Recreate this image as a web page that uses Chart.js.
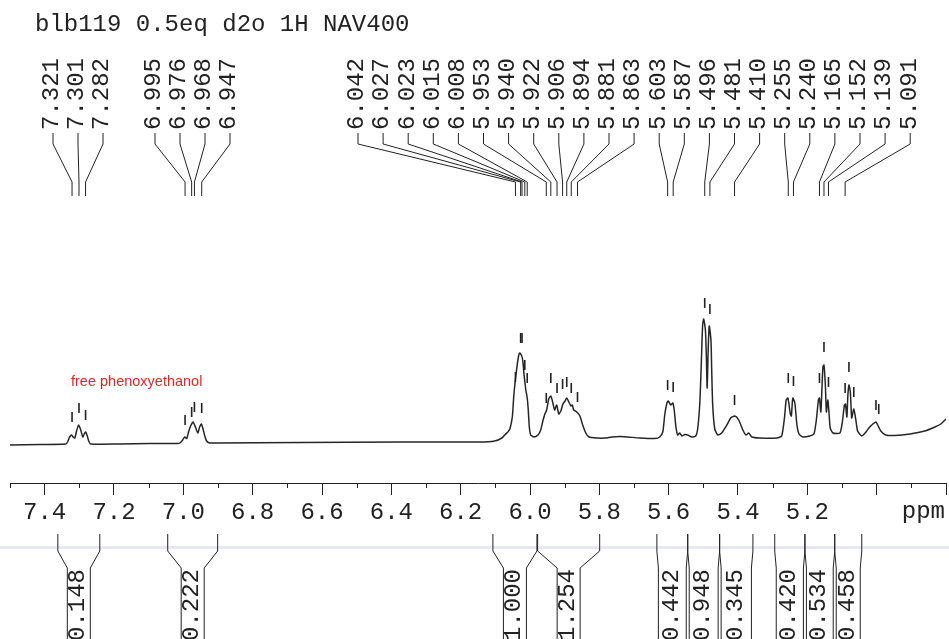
<!DOCTYPE html>
<html>
<head>
<meta charset="utf-8">
<style>
  html, body { margin: 0; padding: 0; background: #fff; }
</style>
<script src="https://cdn.jsdelivr.net/npm/chart.js@4.4.1/dist/chart.umd.min.js"></script>
</head>
<body>
<canvas id="nmr" width="949" height="639"></canvas>
<script>
// ***** DATA *****

// spectrum trace: chemical shift (ppm) and intensity (arbitrary, baseline ~0)
const shiftPpm = [
  7.500, 7.414, 7.339, 7.334, 7.328, 7.322, 7.318, 7.313, 7.308, 7.302, 7.296, 7.290, 7.286, 7.282, 7.277, 7.273, 7.267,
  7.184, 7.097, 7.016, 7.010, 7.002, 6.996, 6.990, 6.985, 6.979, 6.972, 6.964, 6.958, 6.953, 6.948, 6.944, 6.938, 6.933, 6.924, 6.910,
  6.664, 6.376, 6.145, 6.102, 6.081, 6.073, 6.064, 6.058, 6.051, 6.047, 6.043, 6.038, 6.034, 6.030, 6.025, 6.021, 6.017, 6.012, 6.008,
  6.005, 6.002, 5.998, 5.989, 5.977, 5.969, 5.963, 5.957, 5.952, 5.946, 5.940, 5.934, 5.929, 5.923, 5.917, 5.911, 5.905, 5.899, 5.894,
  5.888, 5.882, 5.878, 5.874, 5.865, 5.856, 5.848, 5.839, 5.830, 5.807, 5.784, 5.764, 5.741, 5.718, 5.683, 5.640, 5.626, 5.617, 5.611,
  5.605, 5.601, 5.594, 5.588, 5.584, 5.579, 5.574, 5.568, 5.562, 5.553, 5.545, 5.533, 5.522, 5.516, 5.510, 5.506, 5.502, 5.499, 5.494,
  5.491, 5.489, 5.486, 5.483, 5.478, 5.476, 5.473, 5.467, 5.458, 5.447, 5.432, 5.421, 5.409, 5.398, 5.386, 5.377, 5.369, 5.360, 5.337,
  5.288, 5.274, 5.266, 5.261, 5.256, 5.249, 5.246, 5.242, 5.236, 5.230, 5.224, 5.213, 5.193, 5.181, 5.174, 5.168, 5.165, 5.161, 5.158,
  5.155, 5.152, 5.148, 5.145, 5.141, 5.138, 5.134, 5.126, 5.106, 5.099, 5.093, 5.090, 5.086, 5.083, 5.080, 5.076, 5.072, 5.066, 5.060,
  5.055, 5.043, 5.031, 5.020, 5.011, 5.002, 4.997, 4.988, 4.974, 4.948, 4.904, 4.861, 4.832, 4.815, 4.800
];
const intensity = [
  0, 0.5, 1, 3, 8, 10, 8, 7, 14, 20, 15, 8, 11, 13, 9, 4, 1,
  1, 1.5, 1.5, 2, 5, 8, 6.5, 13, 19, 23, 17, 12, 18, 21, 17, 9, 4, 2, 2,
  2.5, 3, 3, 4, 7, 10, 13, 16, 28, 48, 63, 77, 87, 92, 90, 85, 70, 55, 47,
  35, 18, 10, 8, 10, 15, 24, 31, 35, 46, 49, 42, 35, 40, 31, 34, 41, 44, 47,
  43, 39, 40, 35, 33, 29, 20, 12, 8, 7, 7, 8, 8.5, 8, 7, 6.5, 8, 13, 31,
  42, 44, 40, 42, 35, 18, 10, 12, 9, 10.5, 10, 8, 9, 17, 43, 80, 120, 126, 115,
  85, 57, 95, 119, 105, 77, 40, 16, 10, 12, 20, 27, 29, 25, 15, 10, 12, 8, 7,
  7, 9, 27, 45, 47, 31, 29, 47, 42, 20, 11, 8, 9, 11, 25, 45, 47, 33, 55,
  78, 80, 60, 33, 45, 35, 17, 12, 12, 23, 40, 41, 28, 50, 60, 53, 27, 36, 25,
  14, 9, 13, 18, 21, 23, 20, 14, 10, 9.5, 11, 14, 18, 21, 26
];

// picked peaks that carry a printed shift label
const peakLabels = [
  7.321, 7.301, 7.282,
  6.995, 6.976, 6.968, 6.947,
  6.042, 6.027, 6.023, 6.015, 6.008, 5.953, 5.940, 5.922, 5.906, 5.894, 5.881, 5.863,
  5.603, 5.587, 5.496, 5.481, 5.410, 5.255, 5.240, 5.165, 5.152, 5.139, 5.091
];

// peak-pick markers above the trace (shift, intensity level of marker foot)
const markShift = [
  7.321, 7.301, 7.282, 6.995, 6.976, 6.968, 6.947,
  6.042, 6.027, 6.023, 6.015, 6.008, 5.953, 5.940, 5.922, 5.906, 5.894, 5.881, 5.863,
  5.603, 5.587, 5.496, 5.481, 5.410, 5.255, 5.240, 5.165, 5.152, 5.139,
  5.091, 5.080, 5.066, 5.002, 4.994
];
const markLevel = [
  23, 32, 25, 20, 28, 33, 32,
  63, 102, 102, 75, 62, 42, 62, 52, 56, 58, 52, 43,
  55, 53, 137, 131, 40, 62, 59, 62, 93, 58,
  52, 73, 48, 35, 31
];

// integrals
const integralFrom = [7.362, 7.045, 6.107, 5.978, 5.634, 5.545, 5.453, 5.294, 5.207, 5.121];
const integralTo = [7.241, 6.901, 5.980, 5.799, 5.545, 5.453, 5.357, 5.207, 5.121, 5.043];
const integralValues = ['0.148', '0.222', '1.000', '1.254', '0.442', '0.948', '0.345', '0.420', '0.534', '0.458'];

// axis
const majorTicks = [7.4, 7.2, 7.0, 6.8, 6.6, 6.4, 6.2, 6.0, 5.8, 5.6, 5.4, 5.2, 5.0, 4.8];
const tickLabels = ['7.4', '7.2', '7.0', '6.8', '6.6', '6.4', '6.2', '6.0', '5.8', '5.6', '5.4', '5.2', '', ''];
const minorTicks = [7.5, 7.3, 7.1, 6.9, 6.7, 6.5, 6.3, 6.1, 5.9, 5.7, 5.5, 5.3, 5.1, 4.9];

const titleText = 'blb119 0.5eq d2o 1H NAV400';
const noteText = 'free phenoxyethanol';


// ***** DRAWING HELPERS *****

const MONO = '"Liberation Mono", "Courier New", monospace';
const INK = '#222';

// x position of each label's lead line (three printed groups)
function leadPositions(){
  let xs = [];
  for (let i = 0; i < 3; i++) xs.push(53 + i * 25);
  for (let i = 0; i < 4; i++) xs.push(155 + i * 25);
  for (let i = 0; i < 23; i++) xs.push(358 + i * 25.1);
  return xs;
}

function rotatedText(ctx, text, x, y){
  ctx.save();
  ctx.translate(x, y);
  ctx.rotate(-Math.PI / 2);
  ctx.textAlign = 'left';
  ctx.textBaseline = 'middle';
  ctx.fillText(text, 0, 0);
  ctx.restore();
}

const nmrDecor = {
  id: 'nmrDecor',
  beforeDraw(chart){
    const c = chart.ctx;
    c.save();
    c.fillStyle = '#fff';
    c.fillRect(0, 0, chart.width, chart.height);
    // faint scanner streak under the axis
    c.fillStyle = 'rgba(205, 205, 230, 0.45)';
    c.fillRect(0, 546, chart.width, 3);
    c.restore();
  },
  afterDraw(chart){
    const c = chart.ctx;
    const x = chart.scales.x;
    const y = chart.scales.y;
    const bottom = chart.chartArea.bottom;

    c.save();
    c.strokeStyle = INK;
    c.fillStyle = INK;
    c.lineWidth = 1;

    // title
    c.font = '24px ' + MONO;
    c.textAlign = 'left';
    c.textBaseline = 'alphabetic';
    c.fillText(titleText, 35, 31);

    // minor ticks
    minorTicks.forEach(v => {
      let px = Math.round(x.getPixelForValue(v)) + 0.5;
      c.beginPath();
      c.moveTo(px, bottom);
      c.lineTo(px, bottom + 5);
      c.stroke();
    });

    // ppm unit
    c.textAlign = 'right';
    c.textBaseline = 'middle';
    c.fillText('ppm', 945, 512);

    // peak labels with lead lines
    let leads = leadPositions();
    peakLabels.forEach((p, i) => {
      let lx = leads[i];
      let px = x.getPixelForValue(p);
      c.beginPath();
      c.moveTo(lx, 133);
      c.lineTo(lx, 144);
      c.lineTo(px, 182);
      c.lineTo(px, 196);
      c.stroke();
      rotatedText(c, p.toFixed(3), lx - 1, 130);
    });

    // peak-pick markers
    c.lineWidth = 1.6;
    markShift.forEach((p, i) => {
      let px = x.getPixelForValue(p);
      c.beginPath();
      c.moveTo(px, y.getPixelForValue(markLevel[i]));
      c.lineTo(px, y.getPixelForValue(markLevel[i] + 10));
      c.stroke();
    });

    // integral brackets
    c.lineWidth = 1;
    const top = 534;
    integralFrom.forEach((f, i) => {
      let x1 = x.getPixelForValue(f);
      let x2 = x.getPixelForValue(integralTo[i]);
      let cx = (x1 + x2) / 2;
      let w = x2 - x1;
      let hw = w >= 40 ? 11.5 : w / 2 - 1.5;
      c.beginPath();
      c.moveTo(x1, top);
      c.lineTo(x1, top + 17);
      c.lineTo(cx - hw, top + 34);
      c.lineTo(cx - hw, 639);
      c.moveTo(x2, top);
      c.lineTo(x2, top + 17);
      c.lineTo(cx + hw, top + 34);
      c.lineTo(cx + hw, 639);
      c.stroke();
      c.font = '24px ' + MONO;
      rotatedText(c, integralValues[i], cx - 1, 641);
    });

    // red note
    c.fillStyle = '#ee2222';
    c.font = '14.5px "Liberation Sans", Arial, sans-serif';
    c.textAlign = 'left';
    c.textBaseline = 'alphabetic';
    c.fillText(noteText, 71, 386);

    c.restore();
  }
};


// ***** CHART *****

const ctx = document.getElementById('nmr').getContext('2d');

let points = [];
for (let i = 0; i < shiftPpm.length; i++){
  points.push({ x: shiftPpm[i], y: intensity[i] });
}

new Chart(ctx, {
  type: 'line',
  data: {
    datasets: [{
      data: points,
      borderColor: '#262626',
      borderWidth: 1.5,
      pointRadius: 0,
      tension: 0.2,
      fill: false
    }]
  },
  options: {
    responsive: false,
    animation: false,
    layout: { padding: { left: 10, right: 3, top: 200, bottom: 0 } },
    plugins: {
      legend: { display: false },
      tooltip: { enabled: false }
    },
    scales: {
      x: {
        type: 'linear',
        min: 4.8,
        max: 7.5,
        reverse: true,
        afterBuildTicks: (scale) => { scale.ticks = majorTicks.map(v => ({ value: v })); },
        afterFit: (scale) => { scale.height = 156; },
        ticks: {
          callback: (value, index) => tickLabels[index],
          font: { family: MONO, size: 24 },
          color: INK,
          padding: 3,
          maxRotation: 0,
          autoSkip: false
        },
        grid: { drawOnChartArea: false, drawTicks: true, tickLength: 12, color: INK, lineWidth: 1 },
        border: { display: true, color: INK, width: 1 }
      },
      y: { display: false, min: -38, max: 245 }
    }
  },
  plugins: [nmrDecor]
});
</script>
</body>
</html>
